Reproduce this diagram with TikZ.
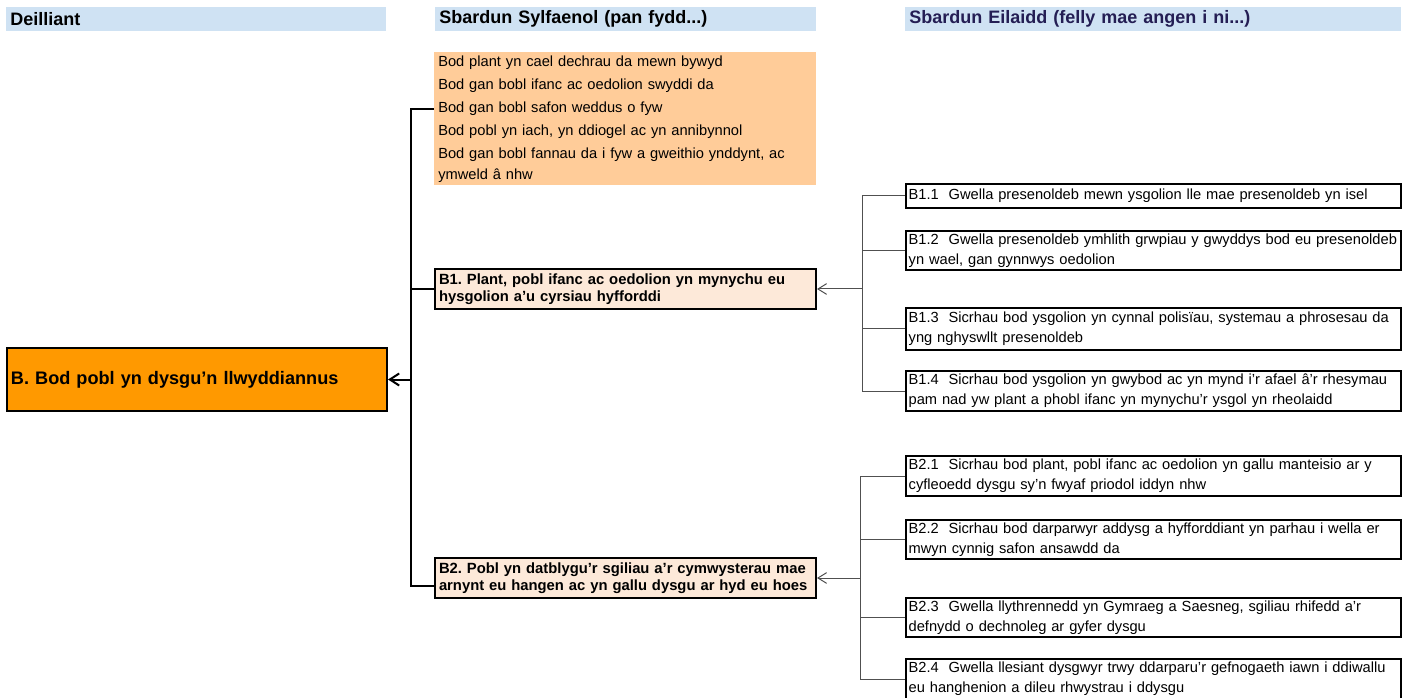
\documentclass[tikz,border=0pt]{standalone}
\usepackage{fontspec}
\setmainfont{Liberation Sans}
\usepackage{xcolor}
\usepackage{tikz}
\usetikzlibrary{arrows.meta, positioning}
\definecolor{hdrblue}{RGB}{207, 226, 243}
\definecolor{outorange}{RGB}{255, 153, 0}
\definecolor{listorange}{RGB}{255, 204, 153}
\definecolor{drvpeach}{RGB}{253, 233, 217}
\definecolor{hdrnavy}{RGB}{36, 30, 84}
\definecolor{linkgrey}{RGB}{80, 80, 80}
\frenchspacing
\hyphenpenalty=10000
\newcommand{\hdrfont}{\fontsize{13.5}{16}\selectfont\bfseries}
\newcommand{\outfont}{\fontsize{13.6}{16}\selectfont\bfseries}
\newcommand{\drvfont}{\fontsize{11.1}{12.75}\selectfont\bfseries}
\newcommand{\listfont}{\fontsize{11}{15.75}\selectfont}
\newcommand{\secfont}{\fontsize{11}{15}\selectfont}

\tikzset{
  hdr/.style={anchor=north west, fill=hdrblue, inner xsep=3pt, inner ysep=0pt,
    minimum height=18pt, text width=#1, align=left, font=\hdrfont},
  outbox/.style={anchor=north west, draw, line width=1.5pt, fill=outorange,
    inner xsep=3pt, text width=279pt, minimum height=47.25pt, align=left, font=\outfont},
  listbox/.style={anchor=north west, fill=listorange, inner xsep=3pt, inner ysep=1pt,
    text width=280.5pt, minimum height=99.75pt, align=left, font=\listfont},
  drvbox/.style={anchor=north west, draw, line width=1.5pt, fill=drvpeach,
    inner xsep=3pt, text width=279.75pt, minimum height=30pt, align=left, font=\drvfont},
  secbox/.style={anchor=north west, draw, line width=1.5pt, inner xsep=2pt, inner ysep=1.5pt,
    text width=367pt, align=left, font=\secfont},
  trunk/.style={line width=1.5pt, black},
  link/.style={line width=0.75pt, linkgrey},
  bigtip/.style={-{Straight Barb[length=7pt, width=9pt]}},
  smalltip/.style={-{Straight Barb[length=6.5pt, width=8pt]}}
}

\begin{document}
\begin{tikzpicture}[x=0.75pt, y=-0.75pt]
\useasboundingbox (0,0) rectangle (1405,698);

% Column headings
\node[hdr=279pt] (hout) at (6,7) {Deilliant};
\node[hdr=279.75pt] (hprim) at (435,7) {Sbardun Sylfaenol (pan fydd...)};
\node[hdr=366pt, text=hdrnavy] (hsec) at (905,7) {Sbardun Eilaidd (felly mae angen i ni...)};

% Outcome
\node[outbox] (out) at (6,347) {B. Bod pobl yn dysgu’n llwyddiannus};

% Primary drivers
\node[listbox] (list) at (434,52) {Bod plant yn cael dechrau da mewn bywyd\\[1.5pt]
  Bod gan bobl ifanc ac oedolion swyddi da\\[1.5pt]
  Bod gan bobl safon weddus o fyw\\[1.5pt]
  Bod pobl yn iach, yn ddiogel ac yn annibynnol\\[1.5pt]
  Bod gan bobl fannau da i fyw a gweithio ynddynt, ac\\ ymweld â nhw};
\node[drvbox] (b1) at (434,268) {B1. Plant, pobl ifanc ac oedolion yn mynychu eu\\
  hysgolion a’u cyrsiau hyfforddi};
\node[drvbox] (b2) at (434,557) {B2. Pobl yn datblygu’r sgiliau a’r cymwysterau mae\\
  arnynt eu hangen ac yn gallu dysgu ar hyd eu hoes};

% Secondary drivers
\foreach \name/\ypos/\hgt/\txt in {
  b11/183/18/{B1.1~~Gwella presenoldeb mewn ysgolion lle mae presenoldeb yn isel},
  b12/230/29.25/{B1.2~~Gwella presenoldeb ymhlith grwpiau y gwyddys bod eu presenoldeb\\ yn wael, gan gynnwys oedolion},
  b13/307/31.5/{B1.3~~Sicrhau bod ysgolion yn cynnal polisïau, systemau a phrosesau da\\ yng nghyswllt presenoldeb},
  b14/370/30/{B1.4~~Sicrhau bod ysgolion yn gwybod ac yn mynd i’r afael â’r rhesymau\\ pam nad yw plant a phobl ifanc yn mynychu’r ysgol yn rheolaidd},
  b21/455/30/{B2.1~~Sicrhau bod plant, pobl ifanc ac oedolion yn gallu manteisio ar y\\ cyfleoedd dysgu sy’n fwyaf priodol iddyn nhw},
  b22/519/29.25/{B2.2~~Sicrhau bod darparwyr addysg a hyfforddiant yn parhau i wella er\\ mwyn cynnig safon ansawdd da},
  b23/597/29.25/{B2.3~~Gwella llythrennedd yn Gymraeg a Saesneg, sgiliau rhifedd a’r\\ defnydd o dechnoleg ar gyfer dysgu},
  b24/658/30/{B2.4~~Gwella llesiant dysgwyr trwy ddarparu’r gefnogaeth iawn i ddiwallu\\ eu hanghenion a dileu rhwystrau i ddysgu}} {
    \node[secbox, minimum height=\hgt pt] (\name) at (905,\ypos) {\txt};
}

% Left tree
\coordinate (ltop) at (411,109);
\coordinate (lbot) at (411,586);
\draw[trunk] (ltop -| list.west) -- (ltop) -- (lbot) -- (lbot -| b2.west);
\draw[trunk] (b1.west -| ltop) -- (b1.west);
\draw[trunk, bigtip] (out.east -| ltop) -- (out.east);

% Right trees
\coordinate (va) at (862,287);
\coordinate (vb) at (860,578);
\draw[link] (b11.west -| va) -- (b14.west -| va);
\draw[link] (b21.west -| vb) -- (b24.west -| vb);
\foreach \name in {b11,b12,b13,b14} {
    \draw[link] (\name.west -| va) -- (\name.west);
}
\foreach \name in {b21,b22,b23,b24} {
    \draw[link] (\name.west -| vb) -- (\name.west);
}
\draw[link, smalltip] (b1.east -| va) -- (b1.east);
\draw[link, smalltip] (b2.east -| vb) -- (b2.east);
\end{tikzpicture}
\end{document}
